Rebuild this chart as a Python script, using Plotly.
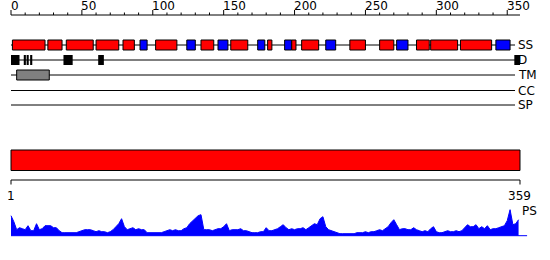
import plotly.graph_objects as go

# ---------------- data ----------------
SEQ_LEN = 359
TRACKS = ["SS", "D", "TM", "CC", "SP"]

# secondary structure elements: start, end (residue positions), type H=helix (red), E=strand (blue)
SS_START = [1, 26, 39, 60, 79, 91, 102, 124, 134, 146, 155, 174, 181, 193, 198, 205, 222, 239, 260, 272, 286, 296, 317, 342]
SS_END   = [24, 36, 58, 76, 87, 96, 117, 130, 143, 153, 167, 179, 184, 198, 201, 217, 229, 250, 270, 280, 295, 315, 339, 352]
SS_TYPE  = ["H", "H", "H", "H", "H", "E", "H", "E", "H", "E", "H", "E", "H", "E", "H", "H", "E", "H", "H", "E", "H", "H", "H", "E"]

# disordered regions
D_START = [0, 9, 11, 13.5, 37, 61.5, 355]
D_END   = [6, 10.5, 12.5, 15, 43.5, 65.5, 359]

# transmembrane region
TM_START = [4]
TM_END = [27]

# domain bar
DOM_START = [0]
DOM_END = [359]

# ruler ticks
TOP_TICKS = list(range(0, 351, 10))
TOP_LABELS = [0, 50, 100, 150, 200, 250, 300, 350]
BOTTOM_LABELS = ["1", "359"]

# PS profile sampled every 2 residues (residues 1,3,...,359)
PS_RES = list(range(1, 360, 2))
PS_VAL = [20, 14, 6, 8, 7, 6, 10, 5, 5, 12, 6, 7, 10, 10, 10, 8, 8, 5, 3, 3,
          3, 3, 3, 3, 4, 5, 6, 6, 6, 5, 4, 5, 4, 4, 3, 4, 6, 9, 12, 17,
          9, 6, 7, 8, 6, 7, 6, 6, 3, 3, 3, 3, 3, 3, 4, 5, 6, 5, 6, 5,
          5, 7, 8, 12, 15, 17, 20, 21, 6, 6, 6, 5, 6, 7, 7, 9, 12, 5, 6, 6,
          6, 7, 5, 5, 4, 3, 3, 3, 4, 4, 8, 5, 5, 6, 7, 9, 11, 8, 6, 7,
          6, 7, 7, 8, 6, 8, 10, 12, 11, 17, 19, 9, 6, 5, 4, 3, 2, 2, 2, 2,
          2, 2, 3, 3, 3, 4, 3, 4, 4, 5, 6, 5, 7, 9, 13, 16, 11, 6, 7, 7,
          6, 6, 8, 6, 5, 4, 5, 4, 7, 9, 4, 3, 3, 4, 5, 4, 4, 5, 4, 5,
          8, 11, 9, 9, 11, 7, 9, 7, 10, 6, 7, 7, 8, 9, 10, 15, 26, 11, 12, 16]

# ---------------- layout constants ----------------
PX = 1.4178          # pixels per residue
X0 = 11              # pixel of position 0
W, H = 550, 260
XR = [-X0 / PX, (W - X0) / PX]
ROW_Y = {"SS": 45, "D": 60, "TM": 75, "CC": 90.5, "SP": 105}
LINE_END = 355.5
FONT = dict(family="DejaVu Sans", size=12, color="#000000")
BLACK = "#000000"

fig = go.Figure()

# PS area profile
fig.add_trace(go.Scatter(
    x=[r - 1 for r in PS_RES], y=PS_VAL, mode="lines", fill="tozeroy",
    line=dict(color="#0000ff", width=1), fillcolor="#0000ff",
    yaxis="y2", hoverinfo="skip", showlegend=False))

shapes = []
annotations = []

# top ruler
shapes.append(dict(type="line", xref="x", yref="y", x0=0, x1=SEQ_LEN, y0=15, y1=15,
                   line=dict(color=BLACK, width=1)))
for t in TOP_TICKS:
    top = 10 if t in TOP_LABELS else 12.5
    shapes.append(dict(type="line", xref="x", yref="y", x0=t, x1=t, y0=top, y1=15,
                       line=dict(color=BLACK, width=1)))
for t in TOP_LABELS:
    annotations.append(dict(x=t, y=6.3, xref="x", yref="y", text=str(t), showarrow=False,
                            xanchor="left", yanchor="middle", xshift=-1.5, borderpad=0,
                            font=FONT))

# track lines + labels
for name in TRACKS:
    y = ROW_Y[name]
    shapes.append(dict(type="line", xref="x", yref="y", x0=0, x1=LINE_END, y0=y, y1=y,
                       line=dict(color=BLACK, width=1)))
    annotations.append(dict(x=LINE_END, y=y, xref="x", yref="y", text=name, showarrow=False,
                            xanchor="left", yanchor="middle", xshift=1, font=FONT))

# SS boxes
for s, e, t in zip(SS_START, SS_END, SS_TYPE):
    y = ROW_Y["SS"]
    shapes.append(dict(type="rect", xref="x", yref="y", x0=s, x1=e, y0=y - 5, y1=y + 5,
                       fillcolor="#ff0000" if t == "H" else "#0000ff",
                       line=dict(color=BLACK, width=1)))

# D boxes
for s, e in zip(D_START, D_END):
    y = ROW_Y["D"]
    shapes.append(dict(type="rect", xref="x", yref="y", x0=s, x1=e, y0=y - 5, y1=y + 5,
                       fillcolor=BLACK, line=dict(width=0)))

# TM boxes
for s, e in zip(TM_START, TM_END):
    y = ROW_Y["TM"]
    shapes.append(dict(type="rect", xref="x", yref="y", x0=s, x1=e, y0=y - 5, y1=y + 5,
                       fillcolor="#808080", line=dict(color=BLACK, width=1)))

# domain bar
for s, e in zip(DOM_START, DOM_END):
    shapes.append(dict(type="rect", xref="x", yref="y", x0=s, x1=e, y0=150, y1=170.5,
                       fillcolor="#ff0000", line=dict(color=BLACK, width=1)))

# bottom ruler
shapes.append(dict(type="line", xref="x", yref="y", x0=0, x1=SEQ_LEN, y0=180, y1=180,
                   line=dict(color=BLACK, width=1)))
for xv, lab in zip([0, SEQ_LEN], BOTTOM_LABELS):
    shapes.append(dict(type="line", xref="x", yref="y", x0=xv, x1=xv, y0=180, y1=184.5,
                       line=dict(color=BLACK, width=1)))
    annotations.append(dict(x=xv, y=195.5, xref="x", yref="y", text=lab, showarrow=False,
                            xanchor="center", yanchor="middle", font=FONT))

# PS baseline + label
shapes.append(dict(type="line", xref="x", yref="y2", x0=0, x1=364, y0=0, y1=0,
                   line=dict(color="#0000ff", width=1)))
annotations.append(dict(x=SEQ_LEN, y=211, xref="x", yref="y", text="PS", showarrow=False,
                        xanchor="left", yanchor="middle", xshift=0.5, font=FONT))

fig.update_layout(
    width=W, height=H, margin=dict(l=0, r=0, t=0, b=0),
    paper_bgcolor="white", plot_bgcolor="white",
    xaxis=dict(range=XR, visible=False, fixedrange=True),
    yaxis=dict(range=[H, 0], visible=False, fixedrange=True),
    yaxis2=dict(range=[-(H - 235.7), 235.7], visible=False, overlaying="y", fixedrange=True),
    shapes=shapes, annotations=annotations, showlegend=False,
)

fig.write_html("out.html", config={"displayModeBar": False})
